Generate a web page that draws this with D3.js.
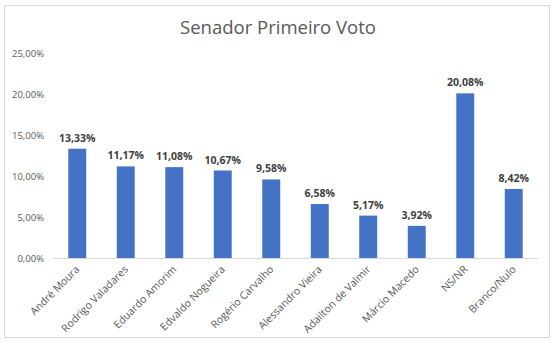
<!DOCTYPE html>
<html>
<head>
<meta charset="utf-8">
<script src="https://cdn.jsdelivr.net/npm/d3@7"></script>
<style>
  html, body { margin: 0; padding: 0; background: #fff; }
  svg { display: block; font-family: "Open Sans", "Noto Sans", sans-serif; }
</style>
</head>
<body>
<svg id="chart" width="558" height="342"></svg>
<script>
const categories = ["André Moura", "Rodrigo Valadares", "Eduardo Amorim", "Edvaldo Nogueira",
  "Rogério Carvalho", "Alessandro Vieira", "Adailton de Valmir", "Márcio Macedo", "NS/NR", "Branco/Nulo"];
const values = [13.33, 11.17, 11.08, 10.67, 9.58, 6.58, 5.17, 3.92, 20.08, 8.42];
const yTicks = [0, 5, 10, 15, 20, 25];
const title = "Senador Primeiro Voto";

const fmt = v => v.toFixed(2).replace(".", ",") + "%";

const svg = d3.select("#chart");

// chart frame
svg.append("rect")
  .attr("x", 4.5).attr("y", 5.5).attr("width", 545).attr("height", 332)
  .attr("fill", "#fff").attr("stroke", "#d9d9d9");

svg.append("text")
  .attr("x", 278).attr("y", 34)
  .attr("text-anchor", "middle")
  .attr("font-size", 18.5)
  .attr("fill", "#595959")
  .text(title);

const x = d3.scaleBand().domain(categories).range([53, 538]).paddingInner(0.63).paddingOuter(0.315);
const y = d3.scaleLinear().domain([0, 25]).range([258, 53]);

// y axis labels (no line)
const yAxis = d3.axisLeft(y).tickValues(yTicks).tickFormat(fmt).tickSize(0).tickPadding(0);
const gy = svg.append("g").attr("transform", "translate(44,0)").call(yAxis);
gy.select(".domain").remove();
gy.selectAll("text").attr("font-size", 9.5).attr("fill", "#595959").attr("font-family", "'Open Sans', sans-serif");

// bars
svg.append("g").selectAll("rect").data(values).join("rect")
  .attr("x", (d, i) => x(categories[i]))
  .attr("y", d => y(d))
  .attr("width", x.bandwidth())
  .attr("height", d => y(0) - y(d))
  .attr("fill", "#4472c4");

// value labels
svg.append("g").selectAll("text").data(values).join("text")
  .attr("x", (d, i) => x(categories[i]) + x.bandwidth() / 2)
  .attr("y", d => y(d) - 7)
  .attr("text-anchor", "middle")
  .attr("font-size", 10.5)
  .attr("font-weight", "bold")
  .attr("fill", "#404040")
  .text(fmt);

// x axis
const xAxis = d3.axisBottom(x).tickSize(0).tickPadding(0);
const gx = svg.append("g").attr("transform", `translate(0,${y(0)})`).call(xAxis);
gx.select(".domain").attr("stroke", "#d9d9d9").attr("d", "M53,0.5H538");
gx.selectAll(".tick text")
  .attr("font-size", 10.5)
  .attr("fill", "#595959")
  .attr("font-family", "'Open Sans', sans-serif")
  .attr("text-anchor", "end")
  .attr("dy", null)
  .attr("transform", "translate(3,12) rotate(-45)")
  .attr("y", 0).attr("x", 0);
</script>
</body>
</html>
